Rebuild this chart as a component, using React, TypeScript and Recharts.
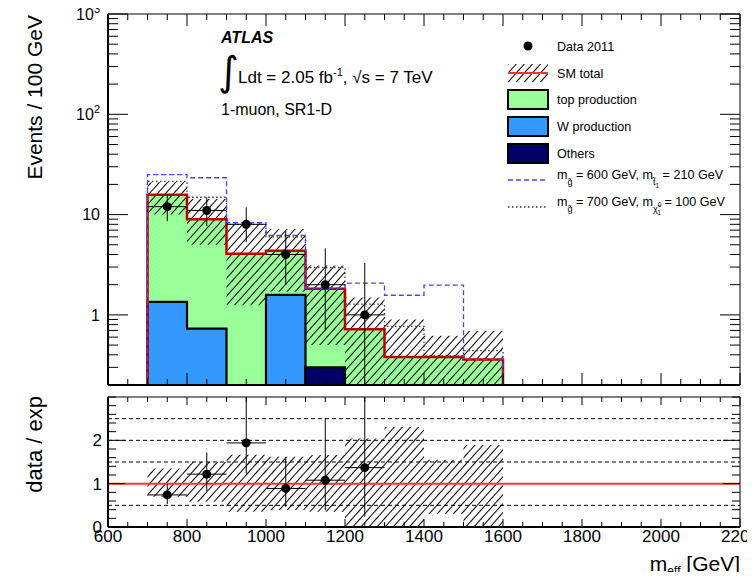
import React from 'react';
import {
  ComposedChart,
  Area,
  Line,
  Scatter,
  ErrorBar,
  XAxis,
  YAxis,
  ReferenceLine,
} from 'recharts';

// ---- histogram binning (m_eff, GeV) ----
const binEdges = [700, 800, 900, 1000, 1100, 1200, 1300, 1400, 1500, 1600];

// ---- stacked SM backgrounds (events / 100 GeV) ----
const smTotal = [15.8, 9.0, 4.06, 4.37, 1.82, 0.72, 0.38, 0.38, 0.36];
const wProduction = [1.35, 0.73, 0, 1.58, 0, 0, 0, 0, 0];
const othersBkg = [0, 0, 0, 0, 0.3, 0, 0, 0, 0];

// ---- SM total uncertainty band ----
const smBandLow = [10.0, 5.0, 1.25, 1.7, 0.5, 0.2, 0.2, 0.2, 0.2];
const smBandHigh = [21.0, 14.3, 8.2, 7.2, 3.1, 1.49, 0.9, 0.62, 0.69];

// ---- signal points stacked on SM ----
const signalGluinoStop = [25.0, 23.3, 8.3, 6.2, 1.85, 2.07, 1.57, 1.98, 0.36];
const signalGluinoNeutralino = [21.4, 14.9, 8.0, 6.0, 2.97, 1.28, 0.77, 0.39, 0.44];

// ---- observed data ----
const dataCenters = [750, 850, 950, 1050, 1150, 1250];
const dataCounts = [12, 11, 8, 4, 2, 1];
const dataErrLow = [3.4, 3.3, 2.7, 2.0, 1.3, 0.8];
const dataErrHigh = [4.1, 3.9, 3.8, 2.9, 2.6, 2.3];
const binHalfWidth = 50;

// ---- ratio panel ----
const ratioValues = [0.74, 1.22, 1.94, 0.89, 1.08, 1.37];
const ratioErrLow = [0.21, 0.39, 0.71, 0.42, 0.69, 1.13];
const ratioErrHigh = [0.25, 0.5, 1.06, 0.73, 1.44, 1.63];
const ratioBandLow = [0.7, 0.58, 0.35, 0.39, 0.35, 0.0, 0.0, 0.3, 0.0];
const ratioBandHigh = [1.35, 1.5, 1.67, 1.62, 1.66, 2.04, 2.31, 1.55, 1.89];
const ratioGuides = [0.5, 1.5, 2, 2.5];

// ---- axis ticks ----
const xMajorTicks = [600, 800, 1000, 1200, 1400, 1600, 1800, 2000, 2200];
const xTicks = xMajorTicks.flatMap((m, i) => (i === 0 ? [m] : [m - 150, m - 100, m - 50, m]));
const yMajorTop = [1, 10, 100, 1000];
const yTicksTop = [
  0.2, 0.3, 0.4, 0.5, 0.6, 0.7, 0.8, 0.9,
  1, 2, 3, 4, 5, 6, 7, 8, 9,
  10, 20, 30, 40, 50, 60, 70, 80, 90,
  100, 200, 300, 400, 500, 600, 700, 800, 900, 1000,
];
const yMajorRatio = [0, 1, 2];
const yTicksRatio = [0, 0.2, 0.4, 0.6, 0.8, 1, 1.2, 1.4, 1.6, 1.8, 2, 2.2, 2.4, 2.6, 2.8, 3];

const FLOOR = 0.2;
const FONT = '"Liberation Sans", Arial, Helvetica, sans-serif';

// step rows: one point per left bin edge, last value repeated at the final edge
function stepRows(values: number[], closeToFloor = false) {
  const last = binEdges[binEdges.length - 1];
  const rows = values.map((v, i) => ({ x: binEdges[i], v: Math.max(v, FLOOR) }));
  rows.push({ x: last, v: Math.max(values[values.length - 1], FLOOR) });
  if (!closeToFloor) return rows;
  return [{ x: binEdges[0], v: FLOOR }, ...rows, { x: last, v: FLOOR }];
}

function bandRows(lo: number[], hi: number[]) {
  const rows = lo.map((l, i) => ({ x: binEdges[i], band: [l, hi[i]] }));
  rows.push({ x: binEdges[binEdges.length - 1], band: [lo[lo.length - 1], hi[hi.length - 1]] });
  return rows;
}

const smFillRows = stepRows(smTotal);
const smOutline = stepRows(smTotal, true);
const wRows = stepRows(wProduction);
const wOutline = stepRows(wProduction, true);
const othersRows = stepRows(othersBkg);
const othersOutline = stepRows(othersBkg, true);
const sigAOutline = stepRows(signalGluinoStop, true);
const sigBOutline = stepRows(signalGluinoNeutralino, true);
const smBand = bandRows(smBandLow, smBandHigh);
const ratioBand = bandRows(ratioBandLow, ratioBandHigh);

const dataPoints = dataCenters.map((x, i) => ({
  x,
  y: dataCounts[i],
  ey: [dataErrLow[i], dataErrHigh[i]],
  ex: binHalfWidth,
}));
const ratioPoints = dataCenters.map((x, i) => ({
  x,
  y: ratioValues[i],
  ey: [ratioErrLow[i], ratioErrHigh[i]],
  ex: binHalfWidth,
}));

type Side = 'left' | 'right' | 'top' | 'bottom';
interface TickOpts {
  side: Side;
  majors: number[];
  majorLen: number;
  minorLen: number;
  label?: (v: number) => React.ReactNode;
  gap?: number;
  fontSize?: number;
}

// ticks point into the frame; labels only on major ticks
const makeTick = (o: TickOpts) => (props: any) => {
  const { x, y, payload } = props;
  const v = payload.value;
  const major = o.majors.indexOf(v) >= 0;
  const len = major ? o.majorLen : o.minorLen;
  let x2 = x;
  let y2 = y;
  if (o.side === 'left') x2 = x + len;
  if (o.side === 'right') x2 = x - len;
  if (o.side === 'top') y2 = y + len;
  if (o.side === 'bottom') y2 = y - len;
  const gap = o.gap ?? 8;
  let label: React.ReactNode = null;
  if (major && o.label) {
    if (o.side === 'left') {
      label = (
        <text x={x - gap} y={y + (o.fontSize ?? 16) * 0.36} textAnchor="end" fontSize={o.fontSize} fontFamily={FONT} fill="#000">
          {o.label(v)}
        </text>
      );
    } else if (o.side === 'bottom') {
      label = (
        <text x={x} y={y + gap} textAnchor="middle" fontSize={o.fontSize} fontFamily={FONT} fill="#000">
          {o.label(v)}
        </text>
      );
    }
  }
  return (
    <g>
      <line x1={x} y1={y} x2={x2} y2={y2} stroke="#000" strokeWidth={1} />
      {label}
    </g>
  );
};

const logLabel = (v: number) => {
  if (v === 1) return '1';
  if (v === 10) return '10';
  const exp = Math.round(Math.log10(v));
  return (
    <>
      10
      <tspan dy={-7} fontSize={11}>{exp}</tspan>
    </>
  );
};

const dot = (p: any) => <circle cx={p.cx} cy={p.cy} r={4.5} fill="#000" />;

const hatchDefs = (id: string) => (
  <defs>
    <pattern id={id} patternUnits="userSpaceOnUse" width={6} height={6} patternTransform="rotate(42)">
      <line x1={0.5} y1={0} x2={0.5} y2={6} stroke="#000" strokeWidth={1} />
    </pattern>
  </defs>
);

const frameThick = { stroke: '#000', strokeWidth: 2 };
const frameThin = { stroke: '#000', strokeWidth: 1 };

function MainPanel() {
  return (
    <ComposedChart width={755} height={392} margin={{ top: 13, right: 14, bottom: 0, left: 0 }}>
      {hatchDefs('smHatch')}
      <XAxis
        dataKey="x"
        type="number"
        domain={[600, 2200]}
        allowDataOverflow
        ticks={xTicks}
        interval={0}
        height={7}
        tickSize={0}
        tickMargin={0}
        axisLine={frameThick}
        tick={makeTick({ side: 'bottom', majors: xMajorTicks, majorLen: 12, minorLen: 6 })}
      />
      <XAxis
        xAxisId="t"
        orientation="top"
        dataKey="x"
        type="number"
        domain={[600, 2200]}
        allowDataOverflow
        ticks={xTicks}
        interval={0}
        height={1}
        tickSize={0}
        tickMargin={0}
        axisLine={frameThin}
        tick={makeTick({ side: 'top', majors: xMajorTicks, majorLen: 12, minorLen: 6 })}
      />
      <YAxis
        type="number"
        scale="log"
        domain={[FLOOR, 1000]}
        allowDataOverflow
        ticks={yTicksTop}
        interval={0}
        width={108}
        tickSize={0}
        tickMargin={0}
        axisLine={frameThick}
        tick={makeTick({ side: 'left', majors: yMajorTop, majorLen: 20, minorLen: 10, label: logLabel, gap: 8, fontSize: 16 })}
      />
      <YAxis
        yAxisId="r"
        orientation="right"
        type="number"
        scale="log"
        domain={[FLOOR, 1000]}
        allowDataOverflow
        ticks={yTicksTop}
        interval={0}
        width={1}
        tickSize={0}
        tickMargin={0}
        axisLine={frameThin}
        tick={makeTick({ side: 'right', majors: yMajorTop, majorLen: 20, minorLen: 10 })}
      />

      {/* top production fills up to the SM total; other backgrounds drawn over it */}
      <Area data={smFillRows} dataKey="v" type="stepAfter" baseValue={FLOOR} fill="#99ff99" fillOpacity={1} stroke="none" isAnimationActive={false} />
      <Area data={smBand} dataKey="band" type="stepAfter" fill="url(#smHatch)" fillOpacity={1} stroke="none" isAnimationActive={false} />
      <Area data={wRows} dataKey="v" type="stepAfter" baseValue={FLOOR} fill="#3399ff" fillOpacity={1} stroke="none" isAnimationActive={false} />
      <Area data={othersRows} dataKey="v" type="stepAfter" baseValue={FLOOR} fill="#000066" fillOpacity={1} stroke="none" isAnimationActive={false} />

      <Line data={wOutline} dataKey="v" type="stepAfter" stroke="#000" strokeWidth={2.2} dot={false} activeDot={false} isAnimationActive={false} />
      <Line data={othersOutline} dataKey="v" type="stepAfter" stroke="#000" strokeWidth={2.2} dot={false} activeDot={false} isAnimationActive={false} />
      <Line data={sigBOutline} dataKey="v" type="stepAfter" stroke="#333" strokeWidth={1.3} strokeDasharray="1.5 2.5" dot={false} activeDot={false} isAnimationActive={false} />
      <Line data={smOutline} dataKey="v" type="stepAfter" stroke="#bb0000" strokeWidth={2.5} dot={false} activeDot={false} isAnimationActive={false} />
      <Line data={sigAOutline} dataKey="v" type="stepAfter" stroke="#4444ff" strokeWidth={1.3} strokeDasharray="5 3" dot={false} activeDot={false} isAnimationActive={false} />

      <Scatter data={dataPoints} dataKey="y" shape={dot} isAnimationActive={false}>
        <ErrorBar dataKey="ey" direction="y" width={0} stroke="#000" strokeWidth={1} />
        <ErrorBar dataKey="ex" direction="x" width={0} stroke="#000" strokeWidth={1} />
      </Scatter>
    </ComposedChart>
  );
}

function RatioPanel() {
  return (
    <ComposedChart width={755} height={170} margin={{ top: 16, right: 14, bottom: 0, left: 0 }}>
      {hatchDefs('ratioHatch')}
      <XAxis
        dataKey="x"
        type="number"
        domain={[600, 2200]}
        allowDataOverflow
        ticks={xTicks}
        interval={0}
        height={23}
        tickSize={0}
        tickMargin={0}
        axisLine={frameThick}
        tick={makeTick({ side: 'bottom', majors: xMajorTicks, majorLen: 8, minorLen: 5, label: (v) => String(v), gap: 15, fontSize: 17 })}
      />
      <XAxis
        xAxisId="t"
        orientation="top"
        dataKey="x"
        type="number"
        domain={[600, 2200]}
        allowDataOverflow
        ticks={xTicks}
        interval={0}
        height={1}
        tickSize={0}
        tickMargin={0}
        axisLine={frameThin}
        tick={makeTick({ side: 'top', majors: xMajorTicks, majorLen: 8, minorLen: 5 })}
      />
      <YAxis
        type="number"
        domain={[0, 3]}
        allowDataOverflow
        ticks={yTicksRatio}
        interval={0}
        width={108}
        tickSize={0}
        tickMargin={0}
        axisLine={frameThick}
        tick={makeTick({ side: 'left', majors: yMajorRatio, majorLen: 17, minorLen: 8, label: (v) => String(v), gap: 6, fontSize: 17 })}
      />
      <YAxis
        yAxisId="r"
        orientation="right"
        type="number"
        domain={[0, 3]}
        allowDataOverflow
        ticks={yTicksRatio}
        interval={0}
        width={1}
        tickSize={0}
        tickMargin={0}
        axisLine={frameThin}
        tick={makeTick({ side: 'right', majors: yMajorRatio, majorLen: 17, minorLen: 8 })}
      />

      <Area data={ratioBand} dataKey="band" type="stepAfter" fill="url(#ratioHatch)" fillOpacity={1} stroke="none" isAnimationActive={false} />
      {ratioGuides.map((g) => (
        <ReferenceLine key={g} y={g} stroke="#000" strokeWidth={1} strokeDasharray="4 3" />
      ))}
      <ReferenceLine y={1} stroke="#ff3333" strokeWidth={2} />

      <Scatter data={ratioPoints} dataKey="y" shape={dot} isAnimationActive={false}>
        <ErrorBar dataKey="ey" direction="y" width={0} stroke="#000" strokeWidth={1} />
        <ErrorBar dataKey="ex" direction="x" width={0} stroke="#000" strokeWidth={1} />
      </Scatter>
    </ComposedChart>
  );
}

// legend rows: centre y of each entry
const legendRows = [46, 73, 99.5, 126.5, 153.5, 180, 207];

function Annotations() {
  const sx = 508;
  const sw = 40;
  const tx = 557;
  const lf = 12.6;
  return (
    <svg width={755} height={580} style={{ position: 'absolute', left: 0, top: 0, pointerEvents: 'none' }} fontFamily={FONT}>
      {hatchDefs('legendHatch')}
      {/* axis titles */}
      <text transform="translate(42,15) rotate(-90)" textAnchor="end" fontSize={21} fill="#000">
        Events / 100 GeV
      </text>
      <text transform="translate(42,396) rotate(-90)" textAnchor="end" fontSize={22} fill="#000">
        data / exp
      </text>
      <text x={740} y={571} textAnchor="end" fontSize={21} fill="#000">
        m<tspan fontSize={12} dy={4}>eff</tspan>
        <tspan dy={-4}> [GeV]</tspan>
      </text>

      {/* experiment label */}
      <text x={221} y={43} fontSize={16} fontWeight="bold" fontStyle="italic" fill="#000">ATLAS</text>
      <text x={218} y={85} fontSize={40} fontFamily='"DejaVu Sans", sans-serif' fill="#000">∫</text>
      <text x={238} y={83} fontSize={17} fill="#000">
        Ldt = 2.05 fb<tspan dy={-7} fontSize={11}>-1</tspan>
        <tspan dy={7}>, √s = 7 TeV</tspan>
      </text>
      <text x={221} y={115} fontSize={16} fill="#000">1-muon, SR1-D</text>

      {/* legend */}
      <circle cx={sx + sw / 2} cy={legendRows[0]} r={4.5} fill="#000" />
      <text x={tx} y={legendRows[0] + 4.5} fontSize={lf}>Data 2011</text>

      <rect x={sx} y={legendRows[1] - 9} width={sw} height={18} fill="url(#legendHatch)" />
      <line x1={sx} x2={sx + sw} y1={legendRows[1]} y2={legendRows[1]} stroke="#ff3333" strokeWidth={2} />
      <text x={tx} y={legendRows[1] + 4.5} fontSize={lf}>SM total</text>

      <rect x={sx} y={legendRows[2] - 9.5} width={sw} height={19} fill="#99ff99" stroke="#000" strokeWidth={2} />
      <text x={tx} y={legendRows[2] + 4.5} fontSize={lf}>top production</text>

      <rect x={sx} y={legendRows[3] - 9.5} width={sw} height={19} fill="#3399ff" stroke="#000" strokeWidth={2} />
      <text x={tx} y={legendRows[3] + 4.5} fontSize={lf}>W production</text>

      <rect x={sx} y={legendRows[4] - 9.5} width={sw} height={19} fill="#000066" stroke="#000" strokeWidth={2} />
      <text x={tx} y={legendRows[4] + 4.5} fontSize={lf}>Others</text>

      <line x1={sx} x2={sx + sw} y1={legendRows[5]} y2={legendRows[5]} stroke="#4444ff" strokeWidth={1.3} strokeDasharray="5 3" />
      <text x={tx} y={legendRows[5] - 1} fontSize={lf}>
        m<tspan fontSize={9} dy={6}>g̃</tspan>
        <tspan fontSize={lf} dy={-6}> = 600 GeV, m</tspan>
        <tspan fontSize={9} dy={6}>t̃</tspan>
        <tspan fontSize={6.5} dy={3}>1</tspan>
        <tspan fontSize={lf} dy={-9}> = 210 GeV</tspan>
      </text>

      <line x1={sx} x2={sx + sw} y1={legendRows[6]} y2={legendRows[6]} stroke="#333" strokeWidth={1.3} strokeDasharray="1.5 2.5" />
      <text x={tx} y={legendRows[6] - 1} fontSize={lf}>
        m<tspan fontSize={9} dy={6}>g̃</tspan>
        <tspan fontSize={lf} dy={-6}> = 700 GeV, m</tspan>
        <tspan fontSize={9} dy={6}>χ̃</tspan>
        <tspan fontSize={6.5} dy={-5}>0</tspan>
        <tspan fontSize={6.5} dy={8} dx={-4}>1</tspan>
        <tspan fontSize={lf} dy={-9}> = 100 GeV</tspan>
      </text>
    </svg>
  );
}

export default function App() {
  return (
    <div style={{ position: 'relative', width: 755, height: 580, margin: -8, background: '#fff', fontFamily: FONT }}>
      <div style={{ position: 'absolute', left: 0, top: 0 }}>
        <MainPanel />
      </div>
      <div style={{ position: 'absolute', left: 0, top: 380 }}>
        <RatioPanel />
      </div>
      <Annotations />
    </div>
  );
}
